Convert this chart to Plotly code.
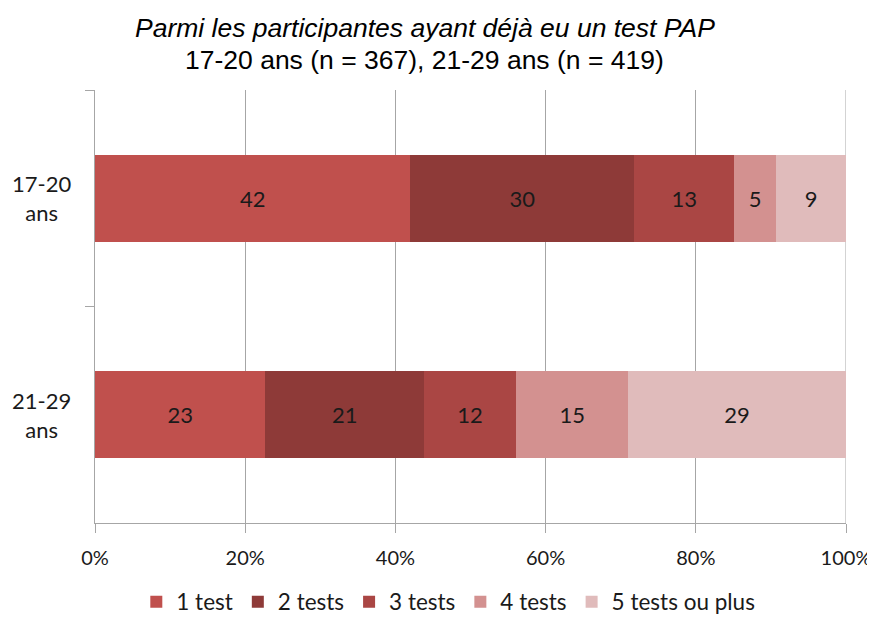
import plotly.graph_objects as go

categories = ["17-20 ans", "21-29 ans"]
category_labels = ["17-20<br>ans", "21-29<br>ans"]
series_names = ["1 test", "2 tests", "3 tests", "4 tests", "5 tests ou plus"]
# percent shares per series: [17-20, 21-29]
v_1test = [42.0, 22.7]
v_2tests = [29.8, 21.1]
v_3tests = [13.3, 12.3]
v_4tests = [5.6, 14.9]
v_5plus = [9.3, 29.0]
# displayed (rounded) labels
l_1test = ["42", "23"]
l_2tests = ["30", "21"]
l_3tests = ["13", "12"]
l_4tests = ["5", "15"]
l_5plus = ["9", "29"]
x_ticks = [0, 20, 40, 60, 80, 100]
x_ticktext = ["0%", "20%", "40%", "60%", "80%", "100%"]

colors = ["#C0504D", "#8E3A38", "#AA4644", "#D39190", "#E0BBBB"]
values = [v_1test, v_2tests, v_3tests, v_4tests, v_5plus]
labels = [l_1test, l_2tests, l_3tests, l_4tests, l_5plus]

FONT = "Lato"
FS = 22
GRID = "#A6A6A6"

fig = go.Figure()
for name, vals, labs, col in zip(series_names, values, labels, colors):
    fig.add_trace(go.Bar(
        y=categories, x=vals, name=name, orientation="h",
        marker=dict(color=col, line=dict(width=0)),
        text=labs, textposition="inside", insidetextanchor="middle",
        textangle=0, constraintext="none",
        textfont=dict(family=FONT, size=FS, color="#1a1a1a"),
    ))

for cat, lab in zip(categories, category_labels):
    fig.add_annotation(x=-0.0706, xref="paper", y=cat, yref="y", text=lab,
                       showarrow=False, align="center", xanchor="center",
                       yanchor="middle",
                       font=dict(family=FONT, size=FS, color="#1a1a1a"))

fig.add_annotation(x=0.439, xref="paper", y=1.143, yref="paper",
                   text="<i>Parmi les participantes ayant déjà eu un test PAP</i>",
                   showarrow=False, xanchor="center", yanchor="middle",
                   font=dict(family="Liberation Sans", size=26.5, color="#000"))
fig.add_annotation(x=0.439, xref="paper", y=1.069, yref="paper",
                   text="17-20 ans (n = 367), 21-29 ans (n = 419)",
                   showarrow=False, xanchor="center", yanchor="middle",
                   font=dict(family="Liberation Sans", size=26.5, color="#000"))

fig.update_layout(
    width=867, height=611,
    barmode="stack", bargap=0.6,
    plot_bgcolor="white", paper_bgcolor="white",
    margin=dict(l=87, r=29, t=82, b=96, autoexpand=False),
    showlegend=True,
    legend=dict(orientation="h", x=0.055, xanchor="left",
                yref="container", y=17 / 611, yanchor="middle",
                font=dict(family=FONT, size=22.5, color="#1a1a1a"),
                itemwidth=30, traceorder="normal", bgcolor="rgba(0,0,0,0)"),
    xaxis=dict(range=[0, 100], tickvals=x_ticks, ticktext=x_ticktext,
               showgrid=True, gridcolor=GRID, gridwidth=1,
               showline=True, linecolor=GRID, linewidth=1,
               ticks="outside", ticklen=9, tickcolor=GRID,
               ticklabelstandoff=8,
               tickfont=dict(family=FONT, size=20, color="#1a1a1a"),
               zeroline=False, fixedrange=True),
    yaxis=dict(categoryorder="array", categoryarray=categories,
               autorange="reversed", showgrid=False,
               showline=True, linecolor=GRID, linewidth=1,
               ticks="outside", ticklen=9, tickcolor=GRID,
               tickson="boundaries", showticklabels=False,
               zeroline=False, fixedrange=True),
)
fig.add_shape(type="line", xref="x", yref="paper", x0=100, x1=100, y0=0, y1=1,
              line=dict(color=GRID, width=1), layer="below")

fig.write_html("out.html")
